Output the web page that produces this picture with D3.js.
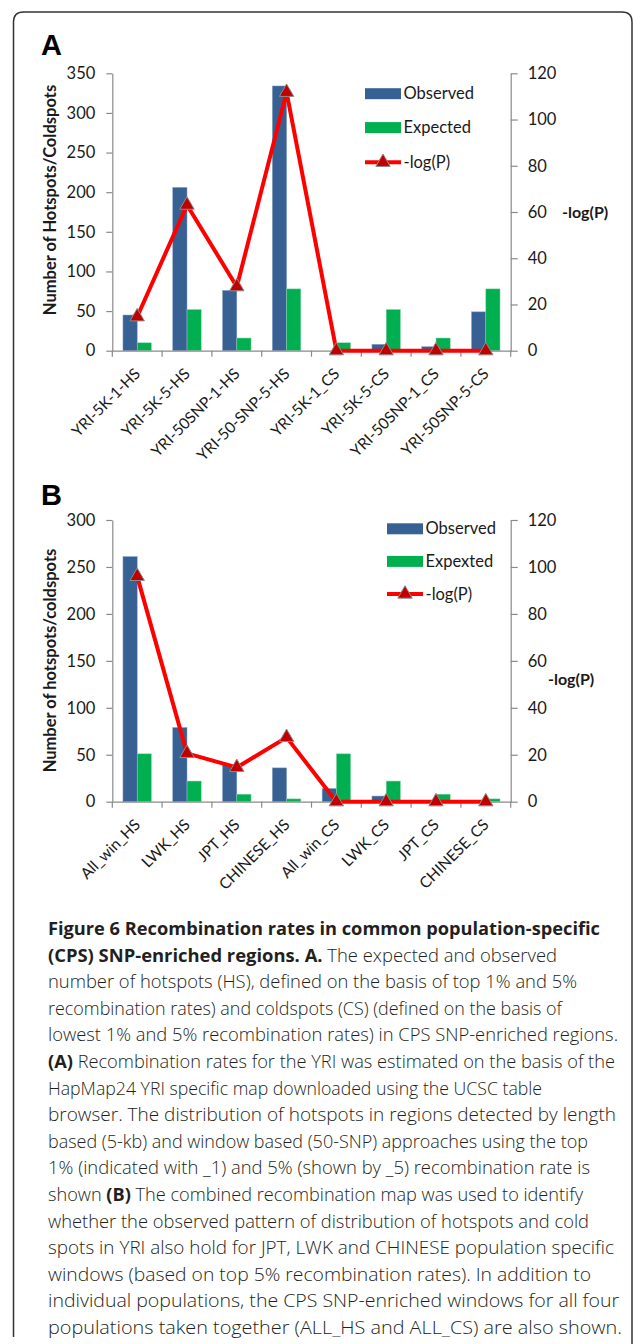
<!DOCTYPE html>
<html>
<head>
<meta charset="utf-8">
<script src="https://cdn.jsdelivr.net/npm/d3@7"></script>
<style>
body { margin: 0; background: #fff; }
svg { display: block; }
</style>
</head>
<body>
<div id="fig"></div>
<script>
// panel A data
var catsA = ["YRI-5K-1-HS", "YRI-5K-5-HS", "YRI-50SNP-1-HS", "YRI-50-SNP-5-HS", "YRI-5K-1_CS", "YRI-5K-5-CS", "YRI-50SNP-1_CS", "YRI-50SNP-5-CS"];
var observedA = [45, 206, 76, 334, 0, 8, 5, 49];
var expectedA = [10, 52, 16, 78, 10, 52, 16, 78];
var logpA = [14.7, 63, 27.7, 111.8, 0, 0, 0, 0];
var leftTicksA = [0, 50, 100, 150, 200, 250, 300, 350];

// panel B data
var catsB = ["All_win_HS", "LWK_HS", "JPT_HS", "CHINESE_HS", "All_win_CS", "LWK_CS", "JPT_CS", "CHINESE_CS"];
var observedB = [261, 79, 39, 36, 14, 6, 0, 0];
var expectedB = [51, 22, 8, 3, 51, 22, 8, 3];
var logpB = [96, 20.6, 14.6, 27.4, 0, 0, 0, 0];
var leftTicksB = [0, 50, 100, 150, 200, 250, 300];

var rightTicks = [0, 20, 40, 60, 80, 100, 120];

var W = 633, H = 1344;
var chartFont = "Lato, 'Open Sans', sans-serif";
var blue = "#386193", green = "#00b050", red = "#ff0000", marker = "#c00000";

var svg = d3.select("#fig").append("svg")
    .attr("width", W)
    .attr("height", H);

// outer frame, bottom runs off the page
svg.append("path")
    .attr("d", "M13.5,1337 L13.5,22 Q13.5,12 23.5,12 L622,12 Q632,12 632,22 L632,1344")
    .attr("fill", "none")
    .attr("stroke", "#333")
    .attr("stroke-width", 1.5);

var left = 112.3, right = 510.7;

function drawPanel(p) {
  var g = svg.append("g");

  var x = d3.scaleBand().domain(p.cats).range([left, right]).padding(0);
  var xs = d3.scaleBand().domain(["obs", "exp"]).range([0, x.bandwidth()])
      .paddingInner(0).paddingOuter(0.75);
  var y = d3.scaleLinear().domain([0, d3.max(p.leftTicks)]).range([p.bottom, p.top]);
  var y2 = d3.scaleLinear().domain([0, d3.max(rightTicks)]).range([p.bottom, p.top]);

  g.append("text")
      .attr("x", 41).attr("y", p.letterY)
      .style("font-family", "'Liberation Sans', Arial, sans-serif")
      .style("font-weight", "bold")
      .style("font-size", "29px")
      .text(p.letter);

  // bars
  var rows = p.cats.map(function(c, i) {
    return {cat: c, obs: p.obs[i], exp: p.exp[i], logp: p.logp[i]};
  });
  g.selectAll(".obs").data(rows).enter().append("rect")
      .attr("x", function(d) { return x(d.cat) + xs("obs"); })
      .attr("y", function(d) { return y(d.obs); })
      .attr("width", xs.bandwidth())
      .attr("height", function(d) { return p.bottom - y(d.obs); })
      .attr("fill", blue)
      .attr("stroke", "#7f9cc4").attr("stroke-width", 0.5);
  g.selectAll(".exp").data(rows).enter().append("rect")
      .attr("x", function(d) { return x(d.cat) + xs("exp"); })
      .attr("y", function(d) { return y(d.exp); })
      .attr("width", xs.bandwidth())
      .attr("height", function(d) { return p.bottom - y(d.exp); })
      .attr("fill", green)
      .attr("stroke", "#8fd6ae").attr("stroke-width", 0.5);

  // left axis
  var ay = g.append("g")
      .attr("transform", "translate(" + left + ",0)")
      .call(d3.axisLeft(y).tickValues(p.leftTicks).tickSize(6).tickPadding(11).tickSizeOuter(0));
  // right axis
  var ay2 = g.append("g")
      .attr("transform", "translate(" + right + ",0)")
      .call(d3.axisRight(y2).tickValues(rightTicks).tickSize(7).tickPadding(10).tickSizeOuter(0));
  // x axis line + boundary ticks
  var ax = g.append("g")
      .attr("transform", "translate(0," + p.bottom + ")")
      .call(d3.axisBottom(x).tickValues([]).tickSizeOuter(0));
  var bounds = d3.range(p.cats.length + 1).map(function(i) { return left + i * x.step(); });
  ax.selectAll(".btick").data(bounds).enter().append("line")
      .attr("x1", function(d) { return d; }).attr("x2", function(d) { return d; })
      .attr("y1", 0).attr("y2", 6);

  [ay, ay2, ax].forEach(function(a) {
    a.selectAll("path, line").attr("stroke", "#8a8a8a").attr("stroke-width", 1.2);
    a.selectAll("text")
        .style("font-family", chartFont)
        .style("font-size", "16.5px")
        .attr("fill", "#1a1a1a");
  });

  // category labels
  g.selectAll(".xl").data(p.cats).enter().append("text")
      .attr("transform", function(d) {
        return "translate(" + (x(d) + x.bandwidth() / 2 + 4) + "," + (p.bottom + 24) + ") rotate(-45)";
      })
      .attr("text-anchor", "end")
      .style("font-family", chartFont)
      .style("font-size", "15.5px")
      .attr("fill", "#1a1a1a")
      .text(function(d) { return d; });

  // -log(P) line
  var line = d3.line()
      .x(function(d) { return x(d.cat) + x.bandwidth() / 2; })
      .y(function(d) { return y2(d.logp); });
  g.append("path")
      .datum(rows)
      .attr("d", line)
      .attr("fill", "none")
      .attr("stroke", red)
      .attr("stroke-width", 4)
      .attr("stroke-linejoin", "round");
  var tri = d3.symbol().type(d3.symbolTriangle).size(90);
  g.selectAll(".mk").data(rows).enter().append("path")
      .attr("d", tri)
      .attr("transform", function(d) {
        return "translate(" + (x(d.cat) + x.bandwidth() / 2) + "," + y2(d.logp) + ")";
      })
      .attr("fill", marker)
      .attr("stroke", "#8c8c8c")
      .attr("stroke-width", 1);

  // axis titles
  g.append("text")
      .attr("transform", "translate(56," + p.titleY + ") rotate(-90)")
      .attr("text-anchor", "middle")
      .style("font-family", chartFont)
      .style("font-weight", "bold")
      .style("font-size", "16.5px")
      .attr("fill", "#1a1a1a")
      .text(p.yTitle);
  g.append("text")
      .attr("x", p.rtX).attr("y", p.rtY + 5)
      .style("font-family", chartFont)
      .style("font-weight", "bold")
      .style("font-size", "16px")
      .attr("fill", "#1a1a1a")
      .text("-log(P)");

  // legend
  var lg = g.append("g").attr("transform", "translate(" + p.legX + ",0)");
  lg.append("rect").attr("x", 0).attr("y", p.legY[0] - 5.5).attr("width", 36).attr("height", 11).attr("fill", blue);
  lg.append("rect").attr("x", 0).attr("y", p.legY[1] - 5.5).attr("width", 36).attr("height", 11).attr("fill", green);
  lg.append("line").attr("x1", 0).attr("x2", 36).attr("y1", p.legY[2]).attr("y2", p.legY[2])
      .attr("stroke", red).attr("stroke-width", 4);
  lg.append("path").attr("d", tri)
      .attr("transform", "translate(18," + p.legY[2] + ")")
      .attr("fill", marker).attr("stroke", "#8c8c8c");
  lg.selectAll(".lt").data(p.names).enter().append("text")
      .attr("x", 38.5)
      .attr("y", function(d, i) { return p.legY[i] + 5.5; })
      .style("font-family", chartFont)
      .style("font-size", "16.5px")
      .attr("fill", "#1a1a1a")
      .text(function(d) { return d; });
}

drawPanel({
  letter: "A", letterY: 55, top: 73.3, bottom: 350.7,
  cats: catsA, obs: observedA, exp: expectedA, logp: logpA, leftTicks: leftTicksA,
  yTitle: "Number of Hotspots/Coldspots", titleY: 200,
  rtX: 562, rtY: 213,
  legX: 365, legY: [93.7, 127.6, 162.3],
  names: ["Observed", "Expected", "-log(P)"]
});

drawPanel({
  letter: "B", letterY: 505, top: 520, bottom: 801.7,
  cats: catsB, obs: observedB, exp: expectedB, logp: logpB, leftTicks: leftTicksB,
  yTitle: "Number of hotspots/coldspots", titleY: 660.5,
  rtX: 548, rtY: 680,
  legX: 387, legY: [528.8, 561.4, 594],
  names: ["Observed", "Expexted", "-log(P)"]
});

// caption: segments [text, bold]
var caption = [
  [["Figure 6 Recombination rates in common population-specific", 1]],
  [["(CPS) SNP-enriched regions. A.", 1], [" The expected and observed", 0]],
  [["number of hotspots (HS), defined on the basis of top 1% and 5%", 0]],
  [["recombination rates) and coldspots (CS) (defined on the basis of", 0]],
  [["lowest 1% and 5% recombination rates) in CPS SNP-enriched regions.", 0]],
  [["(A)", 1], [" Recombination rates for the YRI was estimated on the basis of the", 0]],
  [["HapMap24 YRI specific map downloaded using the UCSC table", 0]],
  [["browser. The distribution of hotspots in regions detected by length", 0]],
  [["based (5-kb) and window based (50-SNP) approaches using the top", 0]],
  [["1% (indicated with _1) and 5% (shown by _5) recombination rate is", 0]],
  [["shown ", 0], ["(B)", 1], [" The combined recombination map was used to identify", 0]],
  [["whether the observed pattern of distribution of hotspots and cold", 0]],
  [["spots in YRI also hold for JPT, LWK and CHINESE population specific", 0]],
  [["windows (based on top 5% recombination rates). In addition to", 0]],
  [["individual populations, the CPS SNP-enriched windows for all four", 0]],
  [["populations taken together (ALL_HS and ALL_CS) are also shown.", 0]]
];
// right edge of each caption line as set in the figure
var capEnds = [600, 557, 577, 562, 618, 615, 542, 616, 588, 590, 583, 589, 614, 591, 619, 622];
var capX = 48;

var cap = svg.append("g")
    .style("font-family", "'Open Sans', sans-serif")
    .attr("fill", "#231f20");
var capLines = cap.selectAll(".cl").data(caption).enter().append("text")
    .attr("x", capX)
    .attr("y", function(d, i) { return 935 + i * 26.6; })
    .attr("textLength", function(d, i) { return capEnds[i] - capX; })
    .attr("lengthAdjust", "spacingAndGlyphs");
capLines.selectAll("tspan").data(function(d) { return d; }).enter().append("tspan")
    .style("font-weight", function(d) { return d[1] ? "bold" : "300"; })
    .style("font-size", "17.5px")
    .attr("xml:space", "preserve")
    .text(function(d) { return d[0]; });
</script>
</body>
</html>
